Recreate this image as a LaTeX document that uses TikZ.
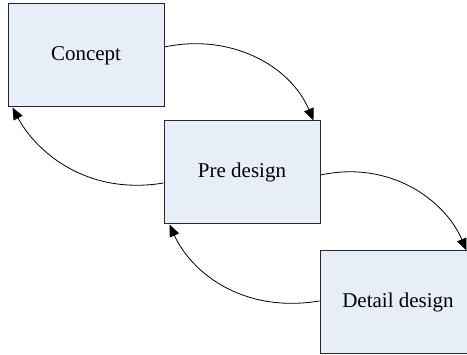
\documentclass[tikz,border=0pt]{standalone}
\usepackage{fontspec}
\setmainfont{Liberation Serif}
\usetikzlibrary{arrows.meta}
\definecolor{boxfill}{RGB}{232,238,247}
\tikzset{
  stage/.style={draw=black!85, line width=1pt, fill=boxfill, minimum width=156pt,
    minimum height=103pt, inner sep=0pt, font=\fontsize{21}{24}\selectfont},
  flow/.style={draw=black, line width=0.8pt, -{Triangle[length=12pt,width=10pt]}}
}
\begin{document}
\begin{tikzpicture}[x=1pt,y=-1pt]
  \useasboundingbox (0,0) rectangle (467,355);
  \clip (0,0) rectangle (467,355);
  \node[stage] (concept) at (86,55.5) {Concept};
  \node[stage] (pre) at (242,172.5) {Pre design};
  \node[stage] (detail) at (398,302.5) {Detail design};
  % forward arrows
  \draw[flow] (concept.east |- 0,47) .. controls (230,33) and (290,65) .. ([xshift=-7pt]pre.north east);
  \draw[flow] (pre.east |- 0,175) .. controls (390,160) and (445,200) .. ([xshift=-10pt]detail.north east);
  % return arrows
  \draw[flow] (pre.west |- 0,183) .. controls (85,196) and (35,150) .. ([xshift=5pt]concept.south west);
  \draw[flow] (detail.west |- 0,301) .. controls (240,314) and (190,270) .. ([xshift=6pt]pre.south west);
\end{tikzpicture}
\end{document}
